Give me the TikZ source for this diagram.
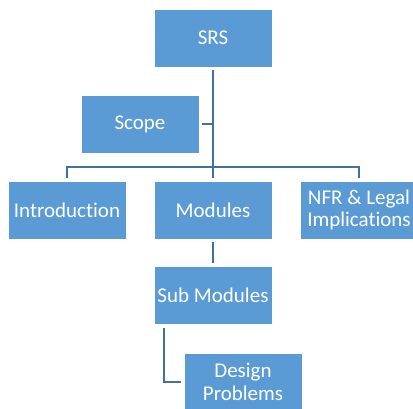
\documentclass[tikz,border=0pt]{standalone}
\usepackage{fontspec}
\setmainfont[Ligatures=NoCommon]{Carlito}
\definecolor{boxblue}{HTML}{5B9BD5}
\definecolor{lineblue}{HTML}{41719C}
\begin{document}
\begin{tikzpicture}[x=1pt,y=-1pt,
  box/.style={rectangle, fill=boxblue, draw=white, line width=0.8pt,
    minimum width=118pt, minimum height=58pt, inner sep=1pt,
    text=white, align=center,
    font=\fontsize{21}{22.5}\selectfont},
  link/.style={draw=lineblue, line width=2pt}]
\useasboundingbox (0,0) rectangle (413,408);
\clip (0,0) rectangle (413,408);
\node[box] (srs) at (213,38) {SRS};
\node[box] (scope) at (140,124) {Scope};
\node[box] (intro) at (67,210) {Introduction};
\node[box] (mod) at (213,210) {Modules};
\node[box] (nfr) at (359,210) {NFR \& Legal\\Implications};
\node[box] (sub) at (213,295.5) {Sub Modules};
\node[box] (des) at (243,382) {Design\\Problems};
\coordinate (bus) at (213,167);
\draw[link, shorten <=3pt, shorten >=3pt] (srs.south) -- (mod.north);
\draw[link, shorten <=3pt, shorten >=3pt] (intro.north) |- (bus) -| (nfr.north);
\draw[link, shorten <=3pt] (scope.east) -- (scope.east -| srs.south);
\draw[link, shorten <=3pt, shorten >=3pt] (mod.south) -- (sub.north);
\draw[link, shorten <=3pt, shorten >=3pt] ([xshift=10pt]sub.south west) |- (des.west);
\end{tikzpicture}
\end{document}
